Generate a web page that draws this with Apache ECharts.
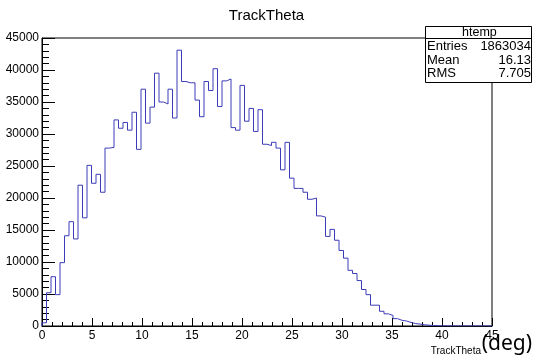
<!DOCTYPE html>
<html>
<head>
<meta charset="utf-8">
<script src="https://cdn.jsdelivr.net/npm/echarts@6/dist/echarts.min.js"></script>
<style>
html,body{margin:0;padding:0;background:#fff;}
#c{width:533px;height:361px;}
</style>
</head>
<body>
<div id="c"></div>
<script>
// ---- data ----
const chartTitle = 'TrackTheta';
const xAxisTitle = 'TrackTheta';
const unitLabel = '(deg)';
const xMin = 0, xMax = 45, binWidth = 0.45;
const counts = [
  500, 5200, 7700, 4900, 9900, 14100, 16300, 13600, 22000, 16900,
  25100, 22300, 23700, 20900, 27800, 27900, 32200, 30900, 31800, 30600,
  33400, 27600, 37000, 31700, 34200, 39500, 35000, 34700, 37000, 32500,
  43100, 38200, 38000, 38000, 35300, 32700, 38200, 36800, 40200, 34300,
  38300, 38600, 31000, 30600, 37600, 32000, 34000, 30400, 33800, 28400,
  28200, 28700, 27800, 24400, 28700, 23100, 21500, 21500, 20900, 19800,
  20000, 17200, 17000, 14000, 15100, 13400, 11800, 10600, 8700, 8200,
  7100, 5700, 4900, 3250, 3250, 2300, 1900, 1650, 1150, 890,
  780, 560, 380, 300, 200, 130, 80, 40, 20, 10,
  5, 3, 0, 0, 0, 0, 0, 0, 0, 0
];
const statsName = 'htemp';
const statsLabels = ['Entries', 'Mean', 'RMS'];
const statsValues = ['1863034', '16.13', '7.705'];

// ---- build step outline ----
const stepData = [[xMin, 0]];
counts.forEach((v, i) => stepData.push([xMin + i * binWidth, v]));
stepData.push([xMax, counts[counts.length - 1]]);
stepData.push([xMax, 0]);

const font = 'Liberation Sans, Arial, Helvetica, sans-serif';
const chart = echarts.init(document.getElementById('c'), null, {renderer: 'canvas'});

const statsRows = statsLabels.map((lab, i) => ([
  {type: 'text', left: 427, top: 40 + i * 13.5, z: 101,
   style: {text: lab, font: '13px ' + font, fill: '#000'}},
  {type: 'text', right: 2, top: 40 + i * 13.5, z: 101,
   style: {text: statsValues[i], font: '13px ' + font, fill: '#000', textAlign: 'right'}}
])).flat();

chart.setOption({
  animation: false,
  backgroundColor: '#fff',
  title: {
    text: chartTitle, left: 'center', top: 3,
    textStyle: {fontFamily: font, fontSize: 15, fontWeight: 'normal', color: '#000'}
  },
  grid: {left: 42, right: 41, top: 38, bottom: 35, show: true, borderColor: '#000', borderWidth: 1, backgroundColor: 'transparent'},
  xAxis: {
    type: 'value', min: xMin, max: xMax, interval: 5,
    axisLine: {show: true, lineStyle: {color: '#000', width: 1}},
    axisTick: {show: true, inside: true, length: 8, lineStyle: {color: '#000'}},
    minorTick: {show: true, splitNumber: 5, length: 4, lineStyle: {color: '#000'}},
    splitLine: {show: false},
    axisLabel: {color: '#000', fontFamily: font, fontSize: 12, margin: 4, showMinLabel: true, showMaxLabel: true,
      formatter: v => String(v)}
  },
  yAxis: {
    type: 'value', min: 0, max: 45000, interval: 5000,
    axisLine: {show: true, lineStyle: {color: '#000', width: 1}},
    axisTick: {show: true, inside: true, length: 13, lineStyle: {color: '#000'}},
    minorTick: {show: true, splitNumber: 5, length: 7, lineStyle: {color: '#000'}},
    splitLine: {show: false},
    axisLabel: {color: '#000', fontFamily: font, fontSize: 12, margin: 3, showMinLabel: true, showMaxLabel: true,
      formatter: v => String(v)}
  },
  series: [{
    type: 'line', step: 'end', data: stepData, symbol: 'none',
    lineStyle: {color: '#3c3cb8', width: 1}, z: 5
  }],
  graphic: [
    {type: 'rect', shape: {x: 425.5, y: 26.5, width: 106, height: 56}, z: 100,
     style: {fill: '#fff', stroke: '#000', lineWidth: 1}},
    {type: 'line', shape: {x1: 425.5, y1: 38.5, x2: 531.5, y2: 38.5}, z: 101,
     style: {stroke: '#000', lineWidth: 1}},
    {type: 'text', left: 462, top: 26.5, z: 101,
     style: {text: statsName, font: '12.5px ' + font, fill: '#000'}},
    ...statsRows,
    {type: 'text', right: 52, top: 346, z: 101,
     style: {text: xAxisTitle, font: '10px ' + font, fill: '#000', textAlign: 'right'}},
    {type: 'text', right: 1, top: 334, z: 101,
     style: {text: unitLabel, font: '21px Noto Sans, sans-serif', fill: '#000'}}
  ]
});
</script>
</body>
</html>
